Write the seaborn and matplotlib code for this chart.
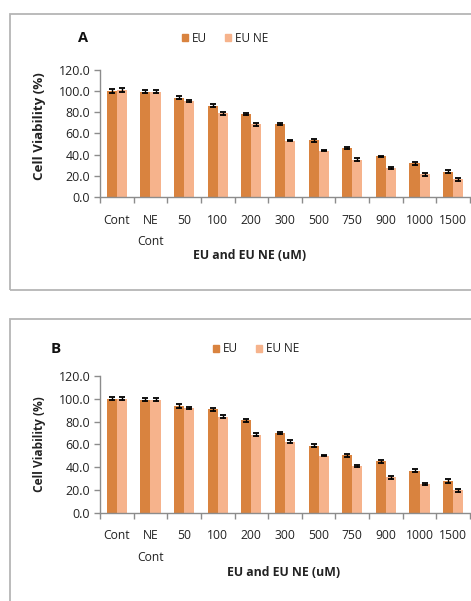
import matplotlib
matplotlib.use("Agg")
import matplotlib.pyplot as plt
import matplotlib.patches as mpatches
from matplotlib.ticker import FormatStrFormatter, FixedLocator
import numpy as np
import pandas as pd
import seaborn as sns

categories = ["Cont", "NE\nCont", "50", "100", "200", "300", "500", "750", "900", "1000", "1500"]
series = ["EU", "EU NE"]

# Panel A
eu_a = [100.2, 99.5, 93.8, 86.3, 78.4, 68.9, 53.6, 46.4, 38.4, 31.8, 24.0]
eune_a = [101.0, 99.5, 90.6, 79.2, 68.8, 53.3, 43.9, 35.4, 27.4, 21.6, 16.8]
eu_a_err = [1.5, 1.6, 1.4, 1.2, 0.6, 1.2, 1.5, 0.7, 0.7, 1.5, 1.3]
eune_a_err = [1.6, 1.5, 1.2, 1.4, 1.4, 0.6, 0.7, 1.5, 1.4, 1.4, 1.4]

# Panel B
eu_b = [100.1, 99.3, 93.7, 90.8, 81.1, 70.0, 58.9, 50.4, 45.1, 36.8, 27.8]
eune_b = [100.1, 99.3, 91.9, 84.3, 68.5, 62.1, 50.0, 41.0, 31.3, 25.2, 19.5]
eu_b_err = [1.5, 1.2, 1.4, 1.3, 1.4, 0.6, 1.3, 1.3, 1.3, 1.2, 1.4]
eune_b_err = [1.5, 1.3, 1.3, 1.3, 1.3, 1.3, 0.6, 1.3, 1.3, 1.3, 1.3]

colors = {"EU": "#D9833F", "EU NE": "#F6B38C"}

sns.set_style("white")
plt.rcParams["font.family"] = ["Open Sans", "DejaVu Sans"]

fig = plt.figure(figsize=(4.71, 6.01), dpi=100)
W, H = 471.0, 601.0


def fx(px):
    return px / W


def fy(py):
    return 1 - py / H


def panel(ax, eu, eune, eu_err, eune_err, ylabel_size):
    df = pd.DataFrame({
        "dose": categories * 2,
        "series": ["EU"] * len(categories) + ["EU NE"] * len(categories),
        "value": eu + eune,
    })
    sns.barplot(data=df, x="dose", y="value", hue="series", order=categories,
                hue_order=series, palette=colors, width=0.6, gap=0,
                errorbar=None, ax=ax, saturation=1, legend=True,
                linewidth=0)
    bar_groups = list(ax.containers)
    errs = [eu_err, eune_err]
    vals = [eu, eune]
    for i, cont in enumerate(bar_groups):
        xs = [p.get_x() + p.get_width() / 2 for p in cont.patches]
        ax.errorbar(xs, vals[i], yerr=errs[i], fmt="none", ecolor="black",
                    elinewidth=1.0, capsize=2.3, capthick=1.3)
    ax.set_xlim(-0.5, len(categories) - 0.5)
    ax.set_ylim(0, 120)
    ax.set_yticks(np.arange(0, 121, 20))
    ax.yaxis.set_major_formatter(FormatStrFormatter("%.1f"))
    ax.xaxis.set_minor_locator(FixedLocator(np.arange(-0.5, len(categories), 1.0)))
    ax.tick_params(axis="x", which="major", length=0, pad=12, labelsize=8.7,
                   colors="#222222")
    ax.tick_params(axis="x", which="minor", length=4, width=1, color="#8c8c8c",
                   direction="out", bottom=True)
    ax.tick_params(axis="y", length=4, width=1, color="#8c8c8c", direction="out",
                   left=True, pad=3, labelsize=8.9, labelcolor="#222222")
    for lab in ax.get_xticklabels():
        lab.set_linespacing(1.85)
        lab.set_verticalalignment("top")
    for s in ["top", "right"]:
        ax.spines[s].set_visible(False)
    for s in ["left", "bottom"]:
        ax.spines[s].set_color("#8c8c8c")
        ax.spines[s].set_linewidth(1)
    ax.set_xlabel("")
    ax.set_ylabel("Cell Viability (%)", fontsize=ylabel_size, fontweight="bold",
                  color="#222222")
    ax.get_legend().remove()


# Panel A
ax_a = fig.add_axes([fx(100), fy(197), fx(470) - fx(100), (197 - 70) / H])
panel(ax_a, eu_a, eune_a, eu_a_err, eune_a_err, 9.6)
ax_a.yaxis.set_label_coords(-0.145, 0.56)

# Panel B
ax_b = fig.add_axes([fx(100), fy(512.7), fx(470) - fx(100), (512.7 - 376) / H])
panel(ax_b, eu_b, eune_b, eu_b_err, eune_b_err, 8.6)
ax_b.yaxis.set_label_coords(-0.145, 0.50)

# panel borders
fig.add_artist(mpatches.Rectangle((fx(10), fy(290)), 1.0, fy(14) - fy(290),
                                  transform=fig.transFigure, fill=False,
                                  edgecolor="#b5b5b5", linewidth=1.3))
fig.add_artist(mpatches.Rectangle((fx(10), fy(640)), 1.0, fy(319) - fy(640),
                                  transform=fig.transFigure, fill=False,
                                  edgecolor="#b5b5b5", linewidth=1.3))

# panel letters
fig.text(fx(83), fy(38), "A", fontsize=10.5, fontweight="bold", ha="center",
         va="center", color="#111111")
fig.text(fx(56), fy(349), "B", fontsize=11, fontweight="bold", ha="center",
         va="center", color="#111111")

# x labels
fig.text(fx(250), fy(255), "EU and EU NE (uM)", fontsize=8.8, fontweight="bold",
         ha="center", va="center", color="#222222")
fig.text(fx(284), fy(573), "EU and EU NE (uM)", fontsize=8.8, fontweight="bold",
         ha="center", va="center", color="#222222")

# legends
handles = [mpatches.Patch(color=colors[s], label=s) for s in series]
for ax, (lx, ly) in [(ax_a, (225, 38)), (ax_b, (256, 349))]:
    ax.legend(handles=handles, ncol=2, loc="center",
              bbox_to_anchor=(fx(lx), fy(ly)), bbox_transform=fig.transFigure,
              frameon=False, handlelength=0.55, handleheight=0.55,
              handletextpad=0.3, columnspacing=1.5, fontsize=8.5,
              labelcolor="#222222")

fig.savefig("out.png", dpi=100)
